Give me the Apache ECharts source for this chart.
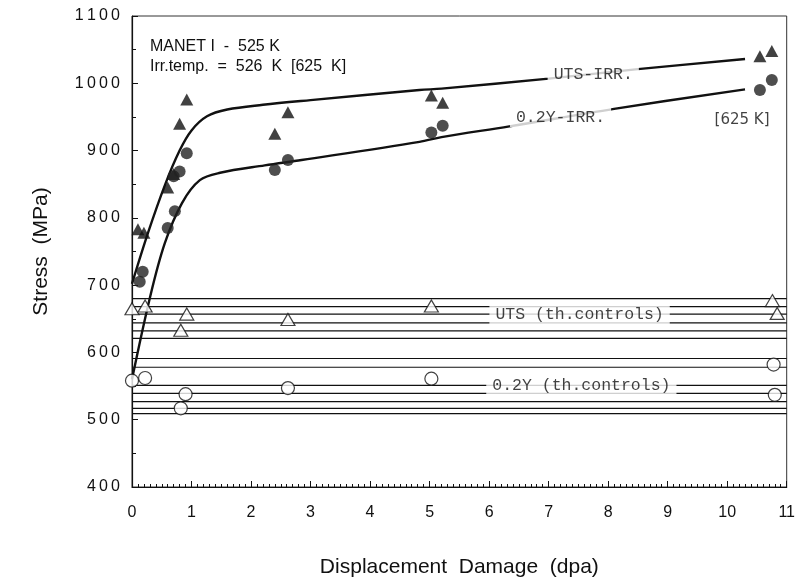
<!DOCTYPE html>
<html><head><meta charset="utf-8">
<script src="https://cdn.jsdelivr.net/npm/echarts@6/dist/echarts.min.js"></script>
<style>html,body{margin:0;padding:0;background:#fff}#c{width:798px;height:588px}</style>
</head><body><div id="c"></div>
<script>
// ---- data (dpa, MPa) ----
const utsIrr = [[0.1,783],[0.2,778],[0.6,845],[0.7,865],[0.8,940],[0.92,976],[2.4,925],[2.62,957],[5.03,982],[5.22,971],[10.55,1040],[10.75,1048]];
const yIrr = [[0.13,705],[0.18,720],[0.6,785],[0.72,810],[0.7,862],[0.8,869],[0.92,896],[2.4,871],[2.62,886],[5.03,927],[5.22,937],[10.55,990],[10.75,1005]];
const utsCtrl = [[0,665],[0.22,669],[0.92,657],[0.82,633],[2.62,649],[5.03,669],[10.76,677],[10.84,658]];
const yCtrl = [[0,558],[0.22,562],[0.9,538],[0.82,517],[2.62,547],[5.03,561],[10.78,582],[10.8,537]];
const utsIrrCurve = [[0,702],[0.27,778],[0.55,848],[0.8,900],[1.0,930],[1.26,951],[1.6,961],[2.2,968],[3,975],[4.83,990],[5.2,992],[7,1007],[8.5,1021],[10.3,1036]];
const yIrrCurve = [[0,560],[0.3,681],[0.55,762],[0.84,822],[1.14,856],[1.48,867],[2.23,878],[2.85,886],[4.83,913],[5.2,920],[6.34,936],[8.1,962],[10.3,991]];
const utsCtrlLines = [680,668,657,644,632,621];
const yCtrlLines = [591,578,551,539,527,517,509];
const xTicks = [0,1,2,3,4,5,6,7,8,9,10,11];
const yTicks = [400,500,600,700,800,900,1000,1100];
const curveLabels = [[7.75,1013,'UTS-IRR.'],[7.2,949,'0.2Y-IRR.'],[7.52,656,'UTS (th.controls)'],[7.55,551,'0.2Y (th.controls)']];
const noteLabels = [[10.25,945,'[625 K]']];

const chart = echarts.init(document.getElementById('c'), null, {renderer:'canvas'});
const black = '#111';
const series = [];
utsCtrlLines.concat(yCtrlLines).forEach(v => {
  series.push({type:'line', data:[[0,v],[11,v]], symbol:'none', silent:true, z:1,
    lineStyle:{color:black, width:1.2}});
});
series.push({type:'line', data:utsIrrCurve, smooth:0.35, symbol:'none', z:2, lineStyle:{color:black,width:2.4}});
series.push({type:'line', data:yIrrCurve, smooth:0.35, symbol:'none', z:2, lineStyle:{color:black,width:2.4}});
series.push({type:'scatter', data:curveLabels.map(d=>({value:[d[0],d[1]], name:d[2]})), symbolSize:0, z:5,
  label:{show:true, position:'inside', formatter:p=>p.name, color:black,
    fontFamily:'Liberation Mono, monospace', fontSize:16.5, backgroundColor:'#fff', padding:[1,6]}});
series.push({type:'scatter', data:noteLabels.map(d=>({value:[d[0],d[1]], name:d[2]})), symbolSize:0, z:5,
  label:{show:true, position:'inside', formatter:p=>p.name, color:black,
    fontFamily:'DejaVu Sans, sans-serif', fontSize:15}});
series.push({type:'scatter', data:utsCtrl, symbol:'triangle', symbolSize:[14,12], z:6,
  itemStyle:{color:'#fff', borderColor:black, borderWidth:1.2}});
series.push({type:'scatter', data:yCtrl, symbol:'circle', symbolSize:13, z:6,
  itemStyle:{color:'#fff', borderColor:black, borderWidth:1.2}});
series.push({type:'scatter', data:utsIrr, symbol:'triangle', symbolSize:[13,12], z:7, itemStyle:{color:black}});
series.push({type:'scatter', data:yIrr, symbol:'circle', symbolSize:12, z:7, itemStyle:{color:'#222'}});

chart.setOption({
  animation:false,
  grid:{left:132, right:10, top:16, bottom:101, show:true, borderColor:'#333', borderWidth:1},
  title:[
    {text:'MANET I  -  525 K', left:145, top:34, textStyle:{fontFamily:'Liberation Sans, Arial', fontWeight:'normal', fontSize:16, color:black}},
    {text:'Irr.temp.  =  526  K  [625  K]', left:145, top:54, textStyle:{fontFamily:'Liberation Sans, Arial', fontWeight:'normal', fontSize:16, color:black}}
  ],
  xAxis:{type:'value', min:0, max:11, interval:1,
    name:'Displacement  Damage  (dpa)', nameLocation:'middle', nameGap:70,
    nameTextStyle:{fontFamily:'Liberation Sans, Arial', fontSize:21, color:black},
    axisLine:{lineStyle:{color:black,width:1.2}},
    axisTick:{inside:true, length:6, lineStyle:{color:black}},
    minorTick:{show:true, splitNumber:10, length:3, lineStyle:{color:black}},
    splitLine:{show:false},
    axisLabel:{margin:18, fontFamily:'Liberation Sans, Arial', fontSize:16, color:black,
      formatter:v=>xTicks.includes(v)?String(v):''}},
  yAxis:{type:'value', min:400, max:1100, interval:100,
    name:'Stress  (MPa)', nameLocation:'middle', nameGap:80,
    nameTextStyle:{fontFamily:'Liberation Sans, Arial', fontSize:21, color:black},
    axisLine:{lineStyle:{color:black,width:1.2}},
    axisTick:{inside:true, length:6, lineStyle:{color:black}},
    minorTick:{show:true, splitNumber:2, length:4, lineStyle:{color:black}},
    splitLine:{show:false},
    axisLabel:{margin:12, fontFamily:'Liberation Sans, Arial', fontSize:16, color:black,
      formatter:v=>yTicks.includes(v)?String(v).split('').join('\u2009'):''}},
  series:series
});
</script></body></html>
